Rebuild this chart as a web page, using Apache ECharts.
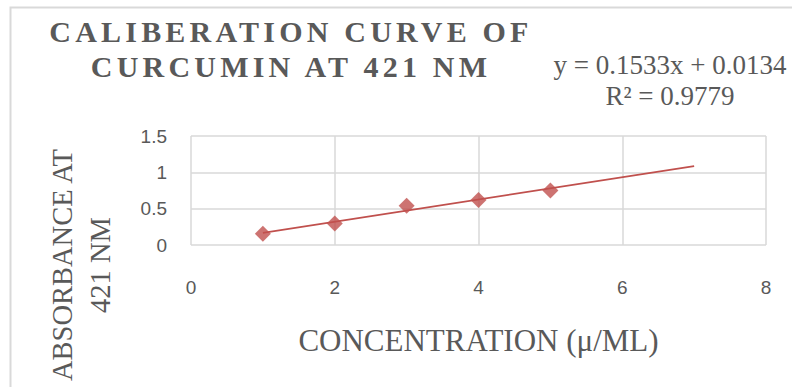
<!DOCTYPE html>
<html>
<head>
<meta charset="utf-8">
<script src="https://cdn.jsdelivr.net/npm/echarts@6/dist/echarts.min.js"></script>
<style>
  html, body { margin: 0; padding: 0; background: #fff; }
  #chart { width: 792px; height: 387px; }
  #chart text[style*="bold"] { letter-spacing: 4.2px; }
</style>
</head>
<body>
<div id="chart"></div>
<script>
// Data
const concentration = [1, 2, 3, 4, 5];
const absorbance = [0.155, 0.295, 0.54, 0.62, 0.75];
const trendX = [1, 7];
const trendY = [0.167, 1.086];
const titleLines = ['CALIBERATION CURVE OF', 'CURCUMIN AT 421 NM'];
const equationLines = ['y = 0.1533x + 0.0134', 'R² = 0.9779'];
const xAxisTitle = 'CONCENTRATION (μ/ML)';
const yAxisTitleLines = ['ABSORBANCE AT', '421 NM'];

const red = '#c0504d';
const grey = '#595959';
const gridGrey = '#d9d9d9';
const serif = '"Liberation Serif", "Times New Roman", serif';
const narrow = '"Liberation Sans Narrow", "Liberation Sans", sans-serif';

const chart = echarts.init(document.getElementById('chart'), null, { renderer: 'svg' });
chart.setOption({
  backgroundColor: '#ffffff',
  animation: false,
  title: [
    {
      text: titleLines.join('\n'),
      left: 286, top: 9, textAlign: 'center',
      textStyle: { fontFamily: serif, fontWeight: 'bold', fontSize: 30, lineHeight: 35, color: grey }
    },
    {
      text: equationLines.join('\n'),
      left: 665, top: 44, textAlign: 'center',
      textStyle: { fontFamily: serif, fontWeight: 'normal', fontSize: 27, lineHeight: 31, color: grey }
    }
  ],
  grid: { left: 191, right: 26, top: 136, bottom: 142, containLabel: false },
  xAxis: {
    type: 'value', min: 0, max: 8, interval: 2,
    name: xAxisTitle, nameLocation: 'middle', nameGap: 80,
    nameTextStyle: { fontFamily: serif, fontSize: 31, color: grey },
    axisLine: { show: false }, axisTick: { show: false },
    axisLabel: { margin: 33, fontFamily: narrow, fontSize: 19, color: grey },
    splitLine: { show: true, lineStyle: { color: gridGrey, width: 1.5 } }
  },
  yAxis: {
    type: 'value', min: 0, max: 1.5, interval: 0.5,
    axisLine: { show: false }, axisTick: { show: false },
    axisLabel: { margin: 24, fontFamily: narrow, fontSize: 19, color: grey },
    splitLine: { show: true, lineStyle: { color: gridGrey, width: 1.5 } }
  },
  graphic: [
    {
      type: 'rect', silent: true, z: -1,
      shape: { x: 10.5, y: 7.5, width: 900, height: 500 },
      style: { fill: 'none', stroke: gridGrey, lineWidth: 2 }
    },
    {
      type: 'text', x: 81, y: 265, rotation: Math.PI / 2,
      style: {
        text: yAxisTitleLines.join('\n'),
        align: 'center', verticalAlign: 'middle',
        fontFamily: serif, fontSize: 28.5, lineHeight: 38, fill: grey
      }
    }
  ],
  series: [
    {
      name: 'Trendline', type: 'line',
      data: trendX.map((x, i) => [x, trendY[i]]),
      showSymbol: false, symbol: 'none',
      lineStyle: { color: red, width: 1.75 }, z: 2
    },
    {
      name: 'Absorbance', type: 'scatter',
      data: concentration.map((x, i) => [x, absorbance[i]]),
      symbol: 'diamond', symbolSize: 16,
      itemStyle: { color: red }, z: 3
    }
  ]
});
</script>
</body>
</html>
